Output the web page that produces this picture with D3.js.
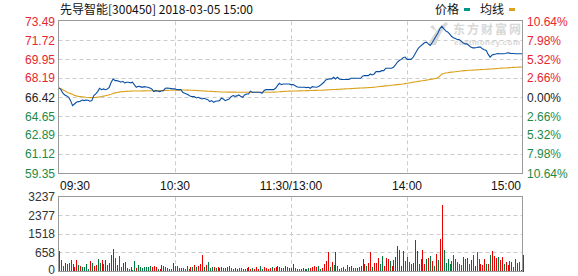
<!DOCTYPE html>
<html>
<head>
<meta charset="utf-8">
<script src="https://cdn.jsdelivr.net/npm/d3@7"></script>
<style>
  body { margin: 0; background: #fff; }
  svg { display: block; font-family: "Liberation Sans", Arial, sans-serif; font-size: 12px; }
</style>
</head>
<body>
<script>
// ---- data ----
var title = "先导智能[300450] 2018-03-05 15:00";
var legendNames = ["价格", "均线"];
var priceTicks = [73.49, 71.72, 69.95, 68.19, 66.42, 64.65, 62.89, 61.12, 59.35];
var pctTicks = ["10.64%", "7.98%", "5.32%", "2.66%", "0.00%", "2.66%", "5.32%", "7.98%", "10.64%"];
var volTicks = [3237, 2377, 1518, 658, 0];
var timeLabels = ["09:30", "10:30", "11:30/13:00", "14:00", "15:00"];
var timeIdx = [0, 60, 120, 180, 240];

// minute prices 09:30 .. 15:00 (241 points)
var price = [
  67.29,67.13,66.80,66.64,66.55,66.42,66.11,65.64,65.80,65.95,
  66.02,66.05,66.17,66.11,66.17,66.14,66.05,66.11,66.58,66.73,
  66.95,67.26,67.13,67.20,67.13,67.20,67.35,67.82,68.13,67.97,
  67.97,67.91,67.82,67.91,67.76,67.82,67.82,67.76,67.82,67.57,
  67.35,67.44,67.41,67.35,67.41,67.38,67.35,67.29,67.20,66.95,
  67.04,67.01,66.95,67.01,67.04,67.26,67.29,67.26,67.23,67.20,
  67.20,67.13,67.13,67.13,66.89,66.80,66.73,66.64,66.51,66.48,
  66.48,66.36,66.42,66.33,66.26,66.33,66.26,66.20,66.02,66.11,
  65.95,66.05,66.08,66.11,66.33,66.26,66.11,66.20,66.26,66.48,
  66.58,66.51,66.55,66.64,66.51,66.42,66.64,66.73,66.73,66.98,
  66.89,66.89,66.89,66.89,66.89,66.79,67.04,67.13,67.13,67.13,
  67.13,67.13,67.26,67.51,67.72,67.60,67.66,67.66,67.66,67.66,
  67.60,67.60,67.51,67.41,67.35,67.35,67.35,67.35,67.32,67.35,
  67.26,67.41,67.38,67.35,67.41,67.51,67.66,67.82,68.03,68.10,
  68.13,68.13,68.28,68.13,68.28,68.13,68.07,68.07,68.07,68.07,
  68.07,68.19,68.19,68.19,68.19,68.19,68.19,68.38,68.44,68.44,
  68.44,68.59,68.50,68.59,68.81,68.81,68.81,68.90,68.90,69.12,
  69.12,69.12,69.12,69.21,69.43,69.68,69.84,69.95,70.10,70.16,
  69.95,69.95,69.95,70.10,70.41,70.72,71.02,71.18,71.33,71.49,
  71.55,71.39,71.24,71.49,71.79,72.10,72.41,72.80,73.02,72.80,
  72.60,72.50,72.31,72.10,71.95,71.88,71.79,71.79,71.64,71.49,
  71.39,71.39,71.24,71.09,71.02,71.02,71.05,71.09,71.09,70.93,
  70.85,70.78,70.41,70.16,70.35,70.41,70.44,70.50,70.47,70.47,
  70.47,70.50,70.56,70.53,70.50,70.50,70.47,70.47,70.47,70.47,
  70.47
];

// average price line
var avgPrice = [
  67.29,67.22,67.13,67.02,66.92,66.82,66.76,66.70,66.60,66.55,
  66.51,66.49,66.47,66.45,66.42,66.40,66.39,66.39,66.40,66.41,
  66.43,66.46,66.49,66.53,66.57,66.61,66.65,66.71,66.78,66.83,
  66.87,66.90,66.93,66.95,66.96,66.97,66.98,66.99,67.00,67.00,
  67.01,67.01,67.01,67.02,67.02,67.02,67.03,67.03,67.03,67.03,
  67.04,67.04,67.05,67.05,67.05,67.06,67.06,67.07,67.07,67.08,
  67.08,67.09,67.09,67.10,67.10,67.10,67.09,67.09,67.08,67.07,
  67.06,67.05,67.04,67.03,67.02,67.00,66.99,66.98,66.98,66.97,
  66.96,66.95,66.94,66.93,66.92,66.91,66.91,66.90,66.90,66.90,
  66.90,66.90,66.89,66.89,66.89,66.89,66.89,66.89,66.89,66.89,
  66.89,66.89,66.89,66.89,66.89,66.89,66.89,66.89,66.89,66.89,
  66.89,66.90,66.91,66.92,66.93,66.95,66.96,66.97,66.98,66.99,
  67.00,67.00,67.01,67.01,67.02,67.02,67.03,67.03,67.04,67.04,
  67.05,67.05,67.06,67.06,67.07,67.07,67.08,67.09,67.10,67.11,
  67.12,67.13,67.14,67.15,67.16,67.17,67.18,67.19,67.20,67.21,
  67.22,67.23,67.24,67.25,67.26,67.27,67.28,67.29,67.30,67.31,
  67.32,67.33,67.34,67.36,67.38,67.40,67.42,67.44,67.46,67.48,
  67.50,67.52,67.54,67.56,67.58,67.60,67.62,67.64,67.66,67.69,
  67.72,67.75,67.78,67.81,67.84,67.87,67.90,67.93,67.96,67.99,
  68.02,68.05,68.08,68.11,68.14,68.18,68.24,68.40,68.58,68.64,
  68.68,68.71,68.74,68.76,68.78,68.80,68.82,68.84,68.86,68.88,
  68.90,68.92,68.93,68.94,68.95,68.96,68.97,68.98,68.99,69.00,
  69.01,69.03,69.04,69.05,69.06,69.08,69.09,69.10,69.12,69.13,
  69.14,69.15,69.16,69.18,69.19,69.20,69.21,69.22,69.23,69.24,
  69.25
];

// minute volume (lots)
var volume = [
  764,409,186,285,248,310,409,248,161,409,
  223,186,161,161,248,99,372,285,186,223,
  434,310,409,260,409,223,285,595,854,471,
  223,533,161,310,347,124,99,161,62,384,
  124,223,161,136,161,161,161,186,161,198,
  161,99,99,223,198,161,136,99,74,310,
  198,198,136,136,136,99,198,99,161,161,
  223,161,198,248,595,161,223,347,124,161,
  161,136,161,124,161,124,136,161,186,124,
  99,136,99,136,124,74,99,124,161,99,
  124,99,161,99,211,99,161,124,99,124,
  161,124,161,198,161,124,124,186,161,124,
  124,260,
  124,99,74,99,124,99,99,124,124,161,
  186,161,198,99,124,248,384,682,161,347,
  223,719,198,74,124,161,74,223,161,198,
  124,124,124,161,198,434,248,198,285,719,
  161,285,310,471,248,533,198,471,434,384,
  198,409,508,960,779,198,760,384,508,347,
  248,285,1231,760,248,434,809,248,434,471,
  558,372,186,620,409,1307,2869,779,285,434,
  248,384,595,434,322,248,223,508,434,471,
  248,409,570,198,703,434,248,223,434,248,
  248,595,764,558,471,508,409,496,248,347,
  223,384,322,161,446,285,347,62,595
];

// 1 = up minute (red bar), 0 = down minute (green bar)
var volUp = [
  0,0,0,1,0,0,0,1,1,1,
  0,1,0,0,0,0,1,0,1,1,
  0,0,1,0,1,0,1,1,1,0,
  1,0,0,1,1,0,0,1,0,0,
  1,0,0,0,0,0,0,0,1,1,
  1,0,1,1,1,0,0,0,0,1,
  0,0,0,1,0,0,0,0,1,0,
  1,0,1,1,1,0,1,0,0,0,
  1,0,1,1,1,0,1,1,1,0,
  0,1,1,0,0,0,1,1,1,1,
  0,1,1,1,0,0,1,1,1,1,
  0,1,1,1,0,1,0,1,0,1,
  1,1,
  0,0,0,1,1,1,0,0,1,1,
  1,1,0,0,1,1,1,1,0,1,
  0,1,0,1,0,1,0,0,1,1,
  0,0,1,0,1,1,1,0,1,1,
  0,1,1,1,0,0,1,1,1,0,
  1,1,1,1,1,1,1,0,0,0,
  1,1,1,1,0,1,1,1,0,1,
  0,1,0,1,0,1,1,0,0,0,
  0,0,0,0,0,0,0,1,0,1,
  0,1,0,1,0,0,1,1,1,0,
  1,0,1,1,1,0,1,1,0,1,
  1,0,1,0,0,1,0,1,1
];

// ---- layout ----
var W = 578, H = 276;
var left = 58.5, right = 522.5;
var pTop = 21.3, pBot = 173.3;
var vTop = 197, vBot = 271.5;

var red = "#e8262e", green = "#1e8a47", dark = "#222";
var gridColor = "#cccccc", borderColor = "#9a9a9a";

var svg = d3.select("body").append("svg")
    .attr("width", W)
    .attr("height", H);

var x = d3.scaleLinear().domain([0, 240]).range([59, 523]);
var y = d3.scaleLinear().domain([priceTicks[8], priceTicks[0]]).range([pBot, pTop]);
// volume axis labels sit on evenly spaced grid lines
var yv = d3.scaleLinear()
    .domain(volTicks.slice().reverse())
    .range(d3.range(volTicks.length).map(function(i) { return vBot - i * (vBot - vTop) / (volTicks.length - 1); }));

function crisp(v) { return Math.floor(v) + 0.5; }
function tickColor(i) { return i < 4 ? red : (i === 4 ? dark : green); }

// title + legend
svg.append("text")
    .attr("x", 60).attr("y", 14)
    .style("font-family", "'Noto Sans CJK SC', sans-serif")
    .style("font-size", "12px")
    .attr("fill", "#111")
    .text(title);

var legendColors = ["#00968a", "#d9a21f"];
var legendX = [435, 480];
legendNames.forEach(function(n, i) {
  svg.append("text")
      .attr("x", legendX[i]).attr("y", 14)
      .style("font-family", "'Noto Sans CJK SC', sans-serif")
      .attr("fill", "#111")
      .text(n);
  svg.append("rect")
      .attr("x", legendX[i] + 29).attr("y", 8)
      .attr("width", 6).attr("height", 3)
      .attr("fill", legendColors[i]);
});

// price panel grid
var pg = svg.append("g");
pg.selectAll("line.h")
  .data(priceTicks.slice(1, 8))
  .enter().append("line")
    .attr("x1", left).attr("x2", right)
    .attr("y1", function(d) { return crisp(y(d)); })
    .attr("y2", function(d) { return crisp(y(d)); })
    .attr("stroke", gridColor)
    .attr("stroke-dasharray", "4,3");
pg.selectAll("line.v")
  .data(timeIdx.slice(1, 4))
  .enter().append("line")
    .attr("x1", function(d) { return crisp(x(d)); })
    .attr("x2", function(d) { return crisp(x(d)); })
    .attr("y1", pTop).attr("y2", pBot)
    .attr("stroke", gridColor)
    .attr("stroke-dasharray", "4,3");

// watermark
var wm = svg.append("g").attr("fill", "#d8d8d8");
wm.append("path")
    .attr("d", "M428,45 C433,35 438,27 446,22 L448,24 C442,30 439,37 436,45 Z M437,32 L430,27 L433,25 Z");
wm.append("text")
    .attr("x", 453).attr("y", 34)
    .style("font-family", "'Noto Sans CJK SC', sans-serif")
    .style("font-size", "12px").style("font-weight", "bold")
    .attr("textLength", 68)
    .text("东方财富网");
wm.append("text")
    .attr("x", 454).attr("y", 45)
    .style("font-size", "8px").style("font-weight", "bold")
    .attr("textLength", 66)
    .text("eastmoney.com");

// lines
var line = d3.line()
    .x(function(d, i) { return x(i); })
    .y(function(d) { return y(d); });

svg.append("path")
    .datum(avgPrice)
    .attr("fill", "none")
    .attr("stroke", "#dba11c")
    .attr("stroke-width", 1.1)
    .attr("d", line);

svg.append("path")
    .datum(price)
    .attr("fill", "none")
    .attr("stroke", "#0a4fa3")
    .attr("stroke-width", 1.1)
    .attr("d", line);

svg.append("rect")
    .attr("x", left).attr("y", crisp(pTop) - 1)
    .attr("width", right - left).attr("height", crisp(pBot) - crisp(pTop) + 1)
    .attr("fill", "none")
    .attr("stroke", borderColor);

// price labels
svg.selectAll("text.pl")
  .data(priceTicks)
  .enter().append("text")
    .attr("x", 55).attr("y", function(d) { return y(d); })
    .attr("dy", "0.35em")
    .attr("text-anchor", "end")
    .attr("fill", function(d, i) { return tickColor(i); })
    .text(function(d) { return d.toFixed(2); });

svg.selectAll("text.pr")
  .data(pctTicks)
  .enter().append("text")
    .attr("x", 527).attr("y", function(d, i) { return y(priceTicks[i]); })
    .attr("dy", "0.35em")
    .attr("fill", function(d, i) { return tickColor(i); })
    .text(function(d) { return d; });

// time labels
svg.selectAll("text.t")
  .data(timeLabels)
  .enter().append("text")
    .attr("x", function(d, i) { return i === 0 ? 60 : (i === 4 ? 521 : x(timeIdx[i])); })
    .attr("y", 190)
    .attr("text-anchor", function(d, i) { return i === 0 ? "start" : (i === 4 ? "end" : "middle"); })
    .attr("fill", "#111")
    .text(function(d) { return d; });

// volume panel grid
var vg = svg.append("g");
vg.selectAll("line")
  .data(volTicks.slice(1, 4))
  .enter().append("line")
    .attr("x1", left).attr("x2", right)
    .attr("y1", function(d) { return crisp(yv(d)); })
    .attr("y2", function(d) { return crisp(yv(d)); })
    .attr("stroke", gridColor)
    .attr("stroke-dasharray", "4,3");
vg.selectAll("line.v")
  .data(timeIdx.slice(1, 4))
  .enter().append("line")
    .attr("x1", function(d) { return crisp(x(d)); })
    .attr("x2", function(d) { return crisp(x(d)); })
    .attr("y1", vTop).attr("y2", vBot)
    .attr("stroke", gridColor)
    .attr("stroke-dasharray", "4,3");

// volume bars
svg.append("g")
    .attr("shape-rendering", "crispEdges")
  .selectAll("rect")
  .data(volume)
  .enter().append("rect")
    .attr("x", function(d, i) { return Math.round(x(i)) - 0.5; })
    .attr("width", 1)
    .attr("y", function(d) { return yv(d); })
    .attr("height", function(d) { return yv(0) - yv(d); })
    .attr("fill", function(d, i) { return volUp[i] ? "#e60000" : "#007a3d"; });

svg.append("rect")
    .attr("x", left).attr("y", crisp(vTop) - 1)
    .attr("width", right - left).attr("height", crisp(vBot) - crisp(vTop) + 1)
    .attr("fill", "none")
    .attr("stroke", borderColor);

svg.selectAll("text.vl")
  .data(volTicks)
  .enter().append("text")
    .attr("x", 55).attr("y", function(d) { return Math.min(yv(d), 269.5); })
    .attr("dy", "0.35em")
    .attr("text-anchor", "end")
    .attr("fill", "#333")
    .text(function(d) { return d; });
</script>
</body>
</html>
